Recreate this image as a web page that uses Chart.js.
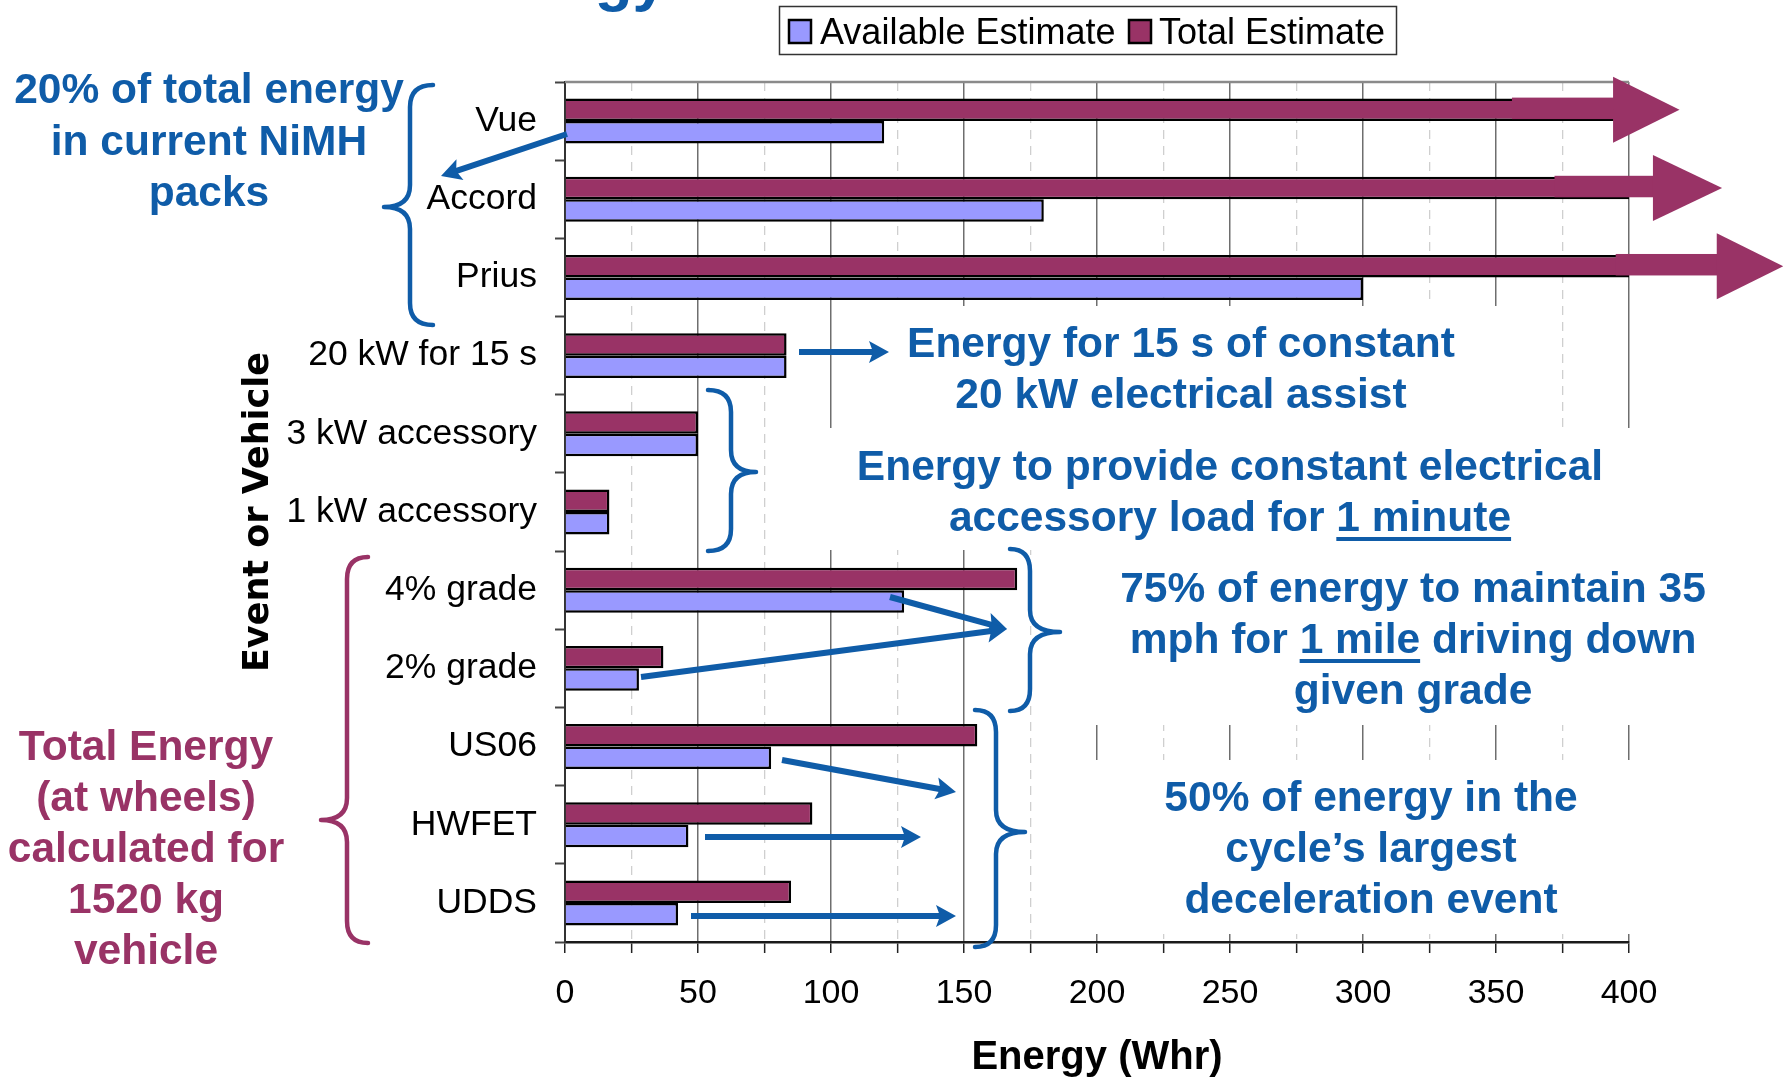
<!DOCTYPE html>
<html><head><meta charset="utf-8">
<script src="https://cdn.jsdelivr.net/npm/chart.js@4.4.1/dist/chart.umd.min.js"></script>
<style>html,body{margin:0;padding:0;background:#fff;overflow:hidden}canvas{display:block}</style>
</head><body>
<canvas id="c" width="1784" height="1077"></canvas>
<script>
// ---- data ----
const categories = ['Vue', 'Accord', 'Prius', '20 kW for 15 s', '3 kW accessory', '1 kW accessory', '4% grade', '2% grade', 'US06', 'HWFET', 'UDDS'];
const totalEstimate = [600, 900, 1500, 83.3, 50, 16.7, 170, 37, 155, 93, 85];
const availableEstimate = [120, 180, 300, 83.3, 50, 16.7, 127.5, 27.8, 77.5, 46.4, 42.5];
const seriesNames = ['Available Estimate', 'Total Estimate'];
const xTickLabels = [0, 50, 100, 150, 200, 250, 300, 350, 400];
const xTitle = 'Energy (Whr)';
const yTitle = 'Event or Vehicle';

const BLUE = '#0F5CA8', MAROON = '#993366', LAV = '#9999FF';
const FONT = '"Liberation Sans", Arial, sans-serif';

function brace(ctx, xEnd, xStem, xTip, yTop, yMid, yBot, color) {
  const r = 22;
  ctx.save();
  ctx.strokeStyle = color; ctx.lineWidth = 4.5; ctx.lineCap = 'round'; ctx.lineJoin = 'round';
  ctx.beginPath();
  ctx.moveTo(xEnd, yTop);
  ctx.quadraticCurveTo(xStem, yTop, xStem, yTop + r);
  ctx.lineTo(xStem, yMid - r);
  ctx.quadraticCurveTo(xStem, yMid, xTip, yMid);
  ctx.quadraticCurveTo(xStem, yMid, xStem, yMid + r);
  ctx.lineTo(xStem, yBot - r);
  ctx.quadraticCurveTo(xStem, yBot, xEnd, yBot);
  ctx.stroke();
  ctx.restore();
}

function arrow(ctx, x1, y1, x2, y2, color) {
  const hl = 20, hw = 11, w = 6;
  const a = Math.atan2(y2 - y1, x2 - x1), c = Math.cos(a), s = Math.sin(a);
  const bx = x2 - hl * c, by = y2 - hl * s;
  ctx.save();
  ctx.strokeStyle = color; ctx.fillStyle = color; ctx.lineWidth = w;
  ctx.beginPath(); ctx.moveTo(x1, y1); ctx.lineTo(bx + 6 * c, by + 6 * s); ctx.stroke();
  ctx.beginPath();
  ctx.moveTo(x2, y2);
  ctx.lineTo(bx - hw * s, by + hw * c);
  ctx.lineTo(bx + 4 * c, by + 4 * s);
  ctx.lineTo(bx + hw * s, by - hw * c);
  ctx.closePath(); ctx.fill();
  ctx.restore();
}

function textBlock(ctx, rows, cx, y0, dy, color, size) {
  ctx.save();
  ctx.font = 'bold ' + size + 'px ' + FONT;
  ctx.fillStyle = color; ctx.textBaseline = 'alphabetic'; ctx.textAlign = 'left';
  rows.forEach((row, i) => {
    const segs = Array.isArray(row) ? row : [{ t: row }];
    const widths = segs.map(sg => ctx.measureText(sg.t).width);
    let x = cx - widths.reduce((p, q) => p + q, 0) / 2;
    const y = y0 + i * dy;
    segs.forEach((sg, k) => {
      ctx.fillText(sg.t, x, y);
      if (sg.u) ctx.fillRect(x, y + 6, widths[k], 4);
      x += widths[k];
    });
  });
  ctx.restore();
}

const decorPlugin = {
  id: 'decor',
  beforeDatasetsDraw(chart) {
    const ctx = chart.ctx, ca = chart.chartArea;
    ctx.save();
    ctx.fillStyle = '#fff';
    ctx.fillRect(862, 306, 688, 122);
    ctx.fillRect(800, 428, 880, 122);
    ctx.fillRect(1042, 550, 700, 175);
    ctx.fillRect(1042, 760, 700, 174);
    ctx.strokeStyle = '#8a8a8a'; ctx.lineWidth = 2.5;
    ctx.beginPath(); ctx.moveTo(ca.left, ca.top); ctx.lineTo(ca.right, ca.top); ctx.stroke();
    ctx.restore();
  },
  afterDatasetsDraw(chart) {
    const ctx = chart.ctx, xs = chart.scales.x;
    const meta = chart.getDatasetMeta(0);
    const overflow = [[356, 394, 419], [372, 409, 435], [395, 433, 458]];
    ctx.save();
    ctx.fillStyle = MAROON;
    overflow.forEach((o, i) => {
      const bar = meta.data[i];
      const top = bar.y - bar.height / 2, bot = bar.y + bar.height / 2;
      const p0 = xs.getPixelForValue(o[0]), p1 = xs.getPixelForValue(o[1]), p2 = xs.getPixelForValue(o[2]);
      ctx.fillRect(p0, top - 1, p1 - p0 + 1, bot - top - 1);
      ctx.beginPath();
      ctx.moveTo(p1, bar.y - 33); ctx.lineTo(p2, bar.y); ctx.lineTo(p1, bar.y + 33);
      ctx.closePath(); ctx.fill();
    });
    ctx.restore();
  },
  afterDraw(chart) {
    const ctx = chart.ctx;
    // cut-off slide title (only the descenders reach into the picture)
    ctx.save();
    ctx.font = 'bold 62px ' + FONT; ctx.fillStyle = BLUE; ctx.textAlign = 'right'; ctx.textBaseline = 'alphabetic';
    ctx.fillText('Energy', 667, -1);
    ctx.restore();

    // legend
    ctx.save();
    ctx.fillStyle = '#fff'; ctx.fillRect(779, 6, 617, 48);
    ctx.strokeStyle = '#333'; ctx.lineWidth = 1.5; ctx.strokeRect(779.5, 6.5, 617, 48);
    const cols = [LAV, MAROON], sq = [789, 1129], tx = [820, 1159];
    ctx.font = '36px ' + FONT; ctx.textBaseline = 'alphabetic'; ctx.textAlign = 'left';
    seriesNames.forEach((n, i) => {
      ctx.fillStyle = cols[i]; ctx.fillRect(sq[i], 20, 22, 23);
      ctx.strokeStyle = '#000'; ctx.lineWidth = 2.5; ctx.strokeRect(sq[i], 20, 22, 23);
      ctx.fillStyle = '#000'; ctx.fillText(n, tx[i], 44);
    });
    ctx.restore();

    // annotations
    textBlock(ctx, ['20% of total energy', 'in current NiMH', 'packs'], 209, 103, 51.5, BLUE, 42.5);
    brace(ctx, 433, 410, 384, 85, 207, 325, BLUE);
    arrow(ctx, 567, 134, 441, 176, BLUE);

    arrow(ctx, 799, 352, 889, 352, BLUE);
    textBlock(ctx, ['Energy for 15 s of constant', '20 kW electrical assist'], 1181, 357, 51, BLUE, 42.5);

    brace(ctx, 708, 731, 756, 390, 472, 551, BLUE);
    textBlock(ctx, ['Energy to provide constant electrical',
      [{ t: 'accessory load for ' }, { t: '1 minute', u: true }]], 1230, 480, 51, BLUE, 42.5);

    brace(ctx, 1010, 1030, 1060, 549, 632, 711, BLUE);
    arrow(ctx, 890, 597, 1007, 629, BLUE);
    arrow(ctx, 641, 677, 1007, 629, BLUE);
    textBlock(ctx, ['75% of energy to maintain 35',
      [{ t: 'mph for ' }, { t: '1 mile', u: true }, { t: ' driving down' }], 'given grade'], 1413, 602, 51, BLUE, 42.5);

    brace(ctx, 975, 996, 1025, 710, 832, 947, BLUE);
    arrow(ctx, 782, 760, 956, 792, BLUE);
    arrow(ctx, 705, 837, 921, 837, BLUE);
    arrow(ctx, 691, 916, 956, 916, BLUE);
    textBlock(ctx, ['50% of energy in the', 'cycle\u2019s largest', 'deceleration event'], 1371, 811, 51, BLUE, 42.5);

    textBlock(ctx, ['Total Energy', '(at wheels)', 'calculated for', '1520 kg', 'vehicle'], 146, 760, 51, MAROON, 42.5);
    brace(ctx, 368, 347, 321, 557, 820, 943, MAROON);
  }
};

new Chart(document.getElementById('c'), {
  type: 'bar',
  data: {
    labels: categories,
    datasets: [
      { label: seriesNames[1], data: totalEstimate, backgroundColor: MAROON, borderColor: '#000', borderWidth: 2.5,
        barPercentage: 1, categoryPercentage: 0.575 },
      { label: seriesNames[0], data: availableEstimate, backgroundColor: LAV, borderColor: '#000', borderWidth: 2.5,
        barPercentage: 1, categoryPercentage: 0.575 }
    ]
  },
  options: {
    indexAxis: 'y',
    responsive: false,
    animation: false,
    devicePixelRatio: 1,
    layout: { padding: { top: 82, right: 155, left: 0, bottom: 0 } },
    plugins: { legend: { display: false }, tooltip: { enabled: false }, title: { display: false } },
    scales: {
      x: {
        type: 'linear', min: 0, max: 400, position: 'bottom',
        afterFit: s => { s.height = 135; },
        ticks: { stepSize: 25, autoSkip: false, maxRotation: 0, padding: 20, color: '#000',
          font: { family: FONT, size: 34 },
          callback: v => xTickLabels.includes(v) ? String(v) : '' },
        grid: {
          color: c => (c.tick && c.tick.value % 50 === 0) ? '#6e6e6e' : '#cfcfcf',
          lineWidth: c => (c.tick && c.tick.value % 50 === 0) ? 1.5 : 1.3,
          tickColor: '#222', tickLength: 11, tickWidth: 1.5, drawTicks: true
        },
        border: { color: '#1a1a1a', width: 2.5,
          dash: c => (c.type === 'tick' && c.tick && c.tick.value % 50 !== 0) ? [9, 7] : [] },
        title: { display: true, text: xTitle, color: '#000', font: { family: FONT, size: 40, weight: 'bold' },
          padding: { top: 0, bottom: -5 } }
      },
      y: {
        type: 'category', position: 'left', offset: true,
        afterFit: s => { s.width = 565; },
        ticks: { autoSkip: false, padding: 18, color: '#000', font: { family: FONT, size: 35.5 } },
        grid: { offset: true, drawOnChartArea: false, drawTicks: true, tickLength: 10, tickColor: '#444', tickWidth: 2 },
        border: { color: '#333', width: 2 },
        title: { display: true, text: yTitle, color: '#000',
          font: { family: '"DejaVu Sans", Verdana, sans-serif', size: 35, weight: 'bold' },
          padding: { top: 238, bottom: 0 } }
      }
    }
  },
  plugins: [decorPlugin]
});
</script>
</body></html>
